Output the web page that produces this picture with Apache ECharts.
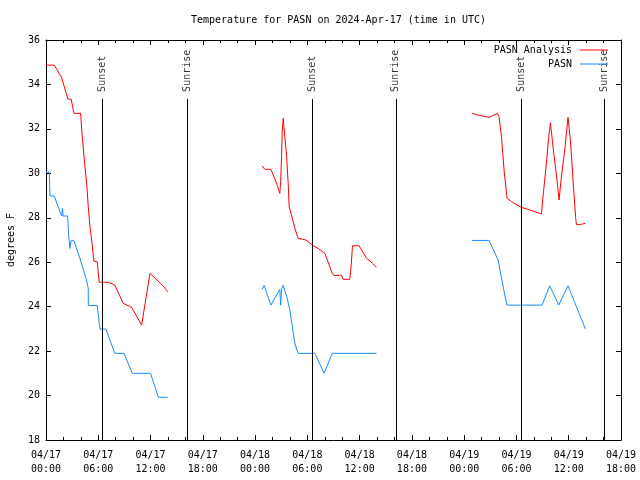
<!DOCTYPE html>
<html>
<head>
<meta charset="utf-8">
<script src="https://cdn.jsdelivr.net/npm/echarts@6/dist/echarts.min.js"></script>
<style>html,body{margin:0;padding:0;background:#fff}#c{width:640px;height:480px}</style>
</head>
<body>
<div id="c"></div>
<script>
// hours since 04/17 00:00 UTC
const xTickLabels = ['04/17\n00:00','04/17\n06:00','04/17\n12:00','04/17\n18:00','04/18\n00:00','04/18\n06:00','04/18\n12:00','04/18\n18:00','04/19\n00:00','04/19\n06:00','04/19\n12:00','04/19\n18:00'];

const analysisTimes = [0,0.95,1.8,2.5,2.9,3.2,3.98,4.1,4.36,4.67,4.85,5.05,5.24,5.5,5.88,6.1,7.15,7.9,8.87,9.83,10.98,11.93,13.46,13.96,
  19,
  24.81,25.12,25.81,26.39,26.84,26.93,27.04,27.11,27.23,27.3,27.45,27.61,27.8,27.91,28.18,28.56,28.94,29.83,30.59,31.24,32.0,32.89,33.15,33.92,34.1,34.87,34.99,35.18,35.94,36.79,37.48,37.94,
  43,
  48.9,49.6,50.86,51.82,52.0,52.28,52.58,52.92,53.42,54.53,55.33,56.87,57.05,57.44,57.7,57.9,58.28,58.66,58.89,59.16,59.54,59.92,60.19,60.57,60.8,60.88,61.37,61.5,61.91];
const analysisValues = [34.87,34.87,34.3,33.35,33.33,32.7,32.7,31.95,30.75,29.55,28.5,27.6,27.0,26.05,26.02,25.1,25.1,24.97,24.15,23.97,23.17,25.5,24.93,24.67,
  null,
  30.33,30.18,30.18,29.63,29.1,29.63,30.75,31.87,32.48,32.1,31.5,30.82,29.55,28.5,28.12,27.53,27.08,27.0,26.77,26.62,26.4,25.47,25.4,25.42,25.23,25.23,25.65,26.74,26.74,26.18,25.95,25.77,
  null,
  32.7,32.62,32.52,32.7,32.55,31.65,30.15,28.88,28.73,28.47,28.38,28.17,28.95,30.45,31.65,32.28,30.9,29.7,28.8,29.85,31.05,32.52,31.5,29.25,27.98,27.7,27.7,27.75,27.75];

const obsTimes = [0,0.38,0.46,0.95,1.6,1.8,1.9,1.95,2.49,2.6,2.75,2.87,3.2,3.9,4.59,4.85,4.86,5.88,6.2,6.88,7.9,8.95,9.9,12.0,12.9,13.96,
  19,
  24.81,25.04,25.2,25.81,26.84,26.93,27.04,27.23,27.69,27.99,28.56,28.94,30.86,31.93,32.85,37.94,
  43,
  48.9,50.86,51.89,52.66,52.92,56.94,57.82,58.85,59.92,60.88,61.91];
const obsValues = [30.05,30.05,28.98,28.98,28.27,28.08,28.43,28.08,28.08,27.2,26.62,26.97,26.97,26.17,25.28,24.83,24.05,24.05,22.99,22.99,21.9,21.9,21.0,21.0,19.92,19.92,
  null,
  24.78,24.96,24.9,24.07,24.78,24.07,24.78,24.96,24.37,23.85,22.35,21.9,21.9,21.0,21.9,21.9,
  null,
  26.98,26.98,26.1,24.53,24.07,24.07,24.94,24.07,24.94,24.0,23.0];

const sunsetTimes = [6.46, 30.55, 54.53];
const sunriseTimes = [16.21, 40.15, 64.05];
const sunLineTop = 33.35;

const FONT = 'DejaVu Sans Mono';
const pair = (ts, vs) => ts.map((t, i) => [t, vs[i] == null ? '-' : vs[i]]);

const sunEvents = sunsetTimes.map(t => ({t, name: 'Sunset'}))
  .concat(sunriseTimes.map(t => ({t, name: 'Sunrise'})));

const chart = echarts.init(document.getElementById('c'), null, {renderer: 'canvas'});
const axisCommon = {
  axisLine: {show: true, onZero: false, lineStyle: {color: '#000', width: 1}},
  splitLine: {show: false}
};
chart.setOption({
  animation: false,
  backgroundColor: '#fff',
  title: {
    text: 'Temperature for PASN on 2024-Apr-17 (time in UTC)',
    left: 186, top: 10,
    textStyle: {fontFamily: FONT, fontSize: 10, fontWeight: 'normal', color: '#000'}
  },
  legend: {
    data: ['PASN Analysis', 'PASN'],
    icon: 'rect',
    orient: 'vertical', align: 'right',
    right: 27, top: 38,
    itemWidth: 28, itemHeight: 1, itemGap: 0,
    textStyle: {fontFamily: FONT, fontSize: 10, color: '#000', lineHeight: 14, padding: [0, 3, 0, 0]}
  },
  grid: {left: 46, right: 19, top: 40, bottom: 40, outerBoundsMode: 'none', containLabel: false},
  xAxis: [
    Object.assign({}, axisCommon, {
      type: 'value', min: 0, max: 66, interval: 6, position: 'bottom',
      axisTick: {show: true, inside: true, length: 5, lineStyle: {color: '#000'}},
      minorTick: {show: true, splitNumber: 3, length: 3, lineStyle: {color: '#000'}},
      minorSplitLine: {show: false},
      axisLabel: {
        fontFamily: FONT, fontSize: 10, color: '#000', margin: 8, lineHeight: 14,
        formatter: v => xTickLabels[Math.round(v / 6)]
      }
    }),
    Object.assign({}, axisCommon, {
      type: 'value', min: 0, max: 66, interval: 6, position: 'top',
      axisTick: {show: true, inside: true, length: 5, lineStyle: {color: '#000'}},
      minorTick: {show: true, splitNumber: 3, length: 3, lineStyle: {color: '#000'}},
      axisLabel: {show: false}
    })
  ],
  yAxis: [
    Object.assign({}, axisCommon, {
      type: 'value', min: 18, max: 36, interval: 2, position: 'left',
      name: 'degrees F', nameLocation: 'middle', nameGap: 30, nameRotate: 90,
      nameTextStyle: {fontFamily: FONT, fontSize: 10, color: '#000'},
      axisTick: {show: true, inside: true, length: 5, lineStyle: {color: '#000'}},
      axisLabel: {fontFamily: FONT, fontSize: 10, color: '#000', margin: 6}
    }),
    Object.assign({}, axisCommon, {
      type: 'value', min: 18, max: 36, interval: 2, position: 'right',
      axisTick: {show: true, inside: true, length: 5, lineStyle: {color: '#000'}},
      axisLabel: {show: false}
    })
  ],
  series: [
    {
      name: 'PASN Analysis', type: 'line', symbol: 'none', connectNulls: false,
      data: pair(analysisTimes, analysisValues),
      lineStyle: {color: '#ff0000', width: 1}, itemStyle: {color: '#ff0000'}, z: 3
    },
    {
      name: 'PASN', type: 'line', symbol: 'none', connectNulls: false,
      data: pair(obsTimes, obsValues),
      lineStyle: {color: '#1a8cff', width: 1}, itemStyle: {color: '#1a8cff'}, z: 3
    },
    {
      name: 'sun', type: 'line', data: [], symbol: 'none',
      markLine: {
        silent: true, symbol: 'none', label: {show: false},
        lineStyle: {color: '#000', width: 1, type: 'solid'},
        data: sunEvents.map(e => [{coord: [e.t, 18]}, {coord: [e.t, sunLineTop]}])
      }
    },
    {
      name: 'sunlabels', type: 'scatter', symbolSize: 0, silent: true,
      data: sunEvents.map(e => ({value: [e.t, sunLineTop], name: e.name})),
      label: {
        show: true, position: 'top', distance: 7, rotate: 90,
        align: 'left', verticalAlign: 'middle',
        formatter: p => p.name,
        fontFamily: FONT, fontSize: 10, color: '#000'
      }
    }
  ]
});
</script>
</body>
</html>
